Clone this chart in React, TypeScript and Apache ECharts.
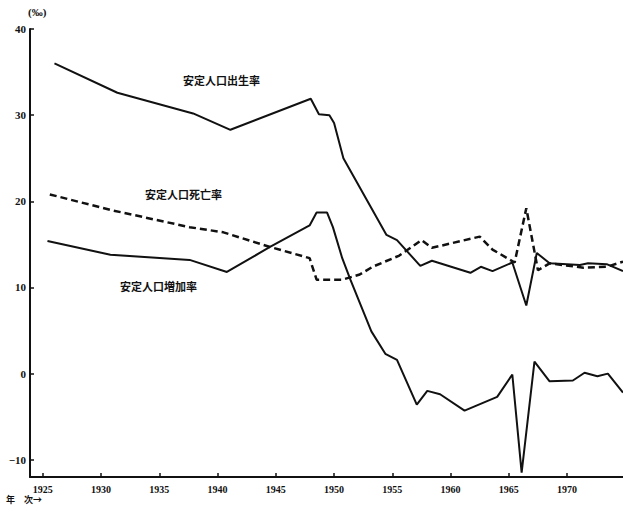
import React, { useEffect, useRef } from "react";
import * as echarts from "echarts";

const yearTicks = [1925, 1930, 1935, 1940, 1945, 1950, 1955, 1960, 1965, 1970];
const yTicks = [-10, 0, 10, 20, 30, 40];

const birthRate: [number, number][] = [
  [1926.0, 36.0], [1931.4, 32.6], [1937.9, 30.2], [1941.1, 28.3], [1948.0, 31.9],
  [1948.7, 30.1], [1949.6, 30.0], [1950.0, 29.1], [1950.8, 25.0], [1954.5, 16.1],
  [1955.4, 15.5], [1957.4, 12.5], [1958.4, 13.1], [1961.7, 11.7], [1962.6, 12.4],
  [1963.6, 11.9], [1965.3, 12.9], [1966.5, 7.9], [1967.4, 14.0], [1968.5, 12.8],
  [1971.1, 12.6], [1971.8, 12.8], [1973.4, 12.7], [1974.8, 11.9],
];

const deathRate: [number, number][] = [
  [1925.6, 20.8], [1930.8, 19.0], [1937.6, 17.0], [1940.5, 16.4], [1944.5, 14.7],
  [1947.9, 13.4], [1948.5, 10.9], [1950.7, 10.9], [1952.2, 11.5], [1953.3, 12.4],
  [1955.6, 13.7], [1957.5, 15.5], [1958.4, 14.6], [1962.5, 15.9], [1963.6, 14.4],
  [1965.5, 12.9], [1966.5, 19.2], [1967.5, 12.0], [1968.5, 12.8], [1971.4, 12.3],
  [1973.4, 12.4], [1974.8, 13.0],
];

const increaseRate: [number, number][] = [
  [1925.4, 15.4], [1930.8, 13.8], [1937.6, 13.2], [1940.8, 11.8], [1944.5, 14.7],
  [1947.9, 17.2], [1948.5, 18.7], [1949.4, 18.7], [1949.9, 17.0], [1950.7, 13.4],
  [1951.4, 10.9], [1953.2, 4.9], [1954.4, 2.3], [1955.4, 1.6], [1957.1, -3.6],
  [1958.0, -2.0], [1959.1, -2.4], [1961.2, -4.3], [1964.0, -2.7], [1965.3, -0.1],
  [1966.1, -11.5], [1967.2, 1.4], [1968.5, -0.9], [1970.5, -0.8], [1971.5, 0.1],
  [1972.6, -0.3], [1973.5, 0.0], [1974.8, -2.2],
];

const labelFont = "'Noto Sans CJK JP', 'Noto Sans CJK SC', sans-serif";
const numFont = "'Liberation Serif', 'DejaVu Serif', serif";

export default function App() {
  const ref = useRef<HTMLDivElement>(null);
  useEffect(() => {
    document.body.style.margin = "0";
    const chart = echarts.init(ref.current!, undefined, { renderer: "svg" });
    const lineCommon = {
      type: "line" as const,
      showSymbol: false,
      symbol: "none",
      smooth: false,
      silent: true,
    };
    chart.setOption({
      animation: false,
      backgroundColor: "#ffffff",
      grid: { left: 30, top: 29, right: 0, bottom: 28, containLabel: false },
      xAxis: {
        type: "value",
        min: 1923.9,
        max: 1974.8,
        splitLine: { show: false },
        axisLine: { show: true, onZero: false, lineStyle: { color: "#111", width: 2 } },
        axisTick: {
          show: true,
          inside: true,
          length: 4,
          customValues: yearTicks,
          lineStyle: { color: "#111", width: 1.5 },
        },
        axisLabel: {
          customValues: yearTicks,
          color: "#111",
          fontFamily: numFont,
          fontWeight: "bold",
          fontSize: 10,
          margin: 7,
          formatter: (v: number) => String(v),
        },
      },
      yAxis: {
        type: "value",
        min: -12,
        max: 40,
        splitLine: { show: false },
        axisLine: { show: true, onZero: false, lineStyle: { color: "#111", width: 2 } },
        axisTick: {
          show: true,
          inside: true,
          length: 4,
          customValues: yTicks,
          lineStyle: { color: "#111", width: 1.5 },
        },
        axisLabel: {
          customValues: yTicks,
          color: "#111",
          fontFamily: numFont,
          fontWeight: "bold",
          fontSize: 11,
          margin: 4,
          formatter: (v: number) => (v < 0 ? "−" + Math.abs(v) : String(v)),
        },
      },
      series: [
        { ...lineCommon, name: "安定人口出生率", data: birthRate, lineStyle: { color: "#111", width: 2 } },
        {
          ...lineCommon,
          name: "安定人口死亡率",
          data: deathRate,
          lineStyle: { color: "#111", width: 2.5, type: [7, 4] },
        },
        { ...lineCommon, name: "安定人口増加率", data: increaseRate, lineStyle: { color: "#111", width: 2 } },
      ],
      graphic: [
        { type: "text", left: 28, top: 6, style: { text: "(‰)", fill: "#111", font: `bold 11px ${numFont}` } },
        { type: "text", left: 183, top: 74, style: { text: "安定人口出生率", fill: "#111", font: `bold 11px ${labelFont}` } },
        { type: "text", left: 145, top: 188, style: { text: "安定人口死亡率", fill: "#111", font: `bold 11px ${labelFont}` } },
        { type: "text", left: 120, top: 280, style: { text: "安定人口増加率", fill: "#111", font: `bold 11px ${labelFont}` } },
        { type: "text", left: 6, top: 495, style: { text: "年　次→", fill: "#111", font: `bold 9px ${labelFont}` } },
      ],
    });
    return () => chart.dispose();
  }, []);
  return <div ref={ref} style={{ width: 623, height: 505 }} />;
}
